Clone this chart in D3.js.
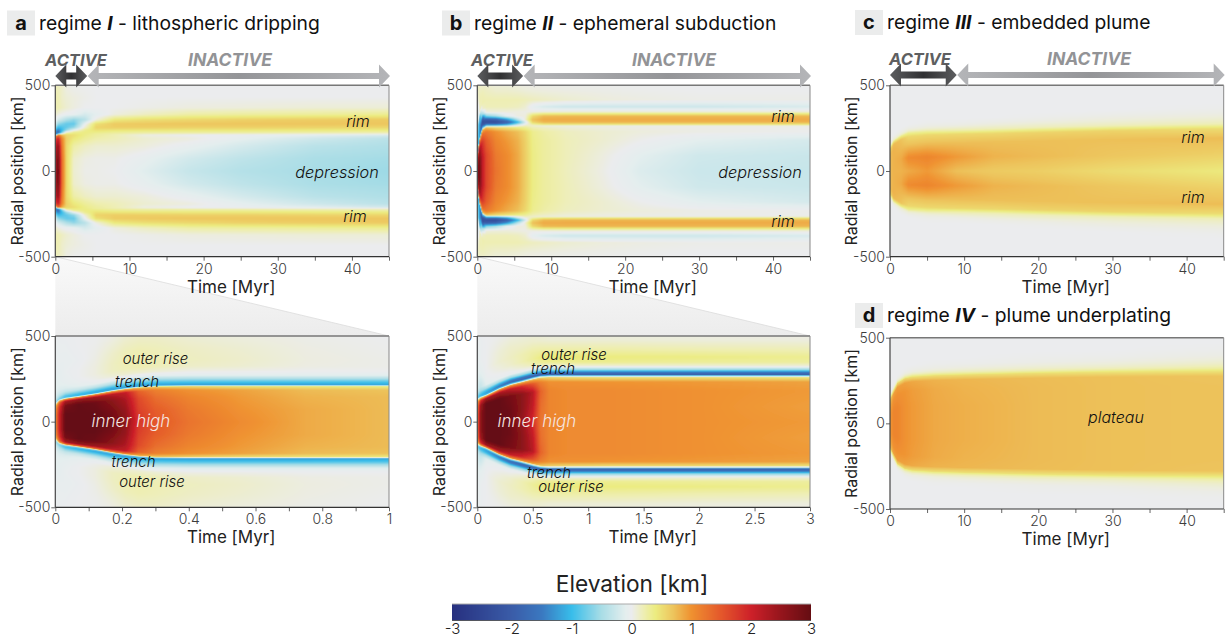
<!DOCTYPE html>
<html>
<head>
<meta charset="utf-8">
<script src="https://cdn.jsdelivr.net/npm/d3@7"></script>
<style>
body { margin: 0; background: #fff; }
svg text { font-family: Inter, "Noto Sans", sans-serif; }
</style>
</head>
<body>
<div id="chart"></div>
<script>
// colour bar
var colorStops = [-3, -2, -1.5, -1, -0.5, -0.1, 0, 0.2, 0.4, 0.7, 1, 1.5, 2, 2.5, 3];
var colorValues = ["#27307f", "#3a5ca8", "#3a78c0", "#38bdea", "#a9dde6", "#e4eeee", "#ebecee", "#eeeeb4", "#ecec80",
    "#edc45c", "#ef9130", "#e4572b", "#cd2029", "#95151c", "#650d12"];
var colorTicks = [-3, -2, -1, 0, 1, 2, 3];

// rows of every table: fractions of the edge radius, then km beyond the edge
var innerRows = [0, 0.35, 0.7, 0.9, 1];
var outerRows = [4, 10, 18, 30, 45, 65, 90, 120, 160, 220, 300, 400];

// a - regime I, 0-45 Myr
var timesA = [0, 0.4, 0.9, 1.5, 2.5, 4, 5.5, 8, 12, 18, 25, 35, 45];
var edgeA = [205, 210, 210, 210, 210, 210, 210, 210, 210, 210, 210, 210, 210];
var elevA = [
    [2.3, 2.3, 2.1, 1.7, 1.0, -0.4, -1.3, -1.4, -1.2, -0.7, -0.3, -0.05, 0.1, 0.2, 0.2, 0.18, 0.15],
    [2.9, 2.8, 2.5, 2.0, 1.3, 0.2, -1.2, -1.7, -1.4, -1.0, -0.6, -0.2, 0.05, 0.2, 0.2, 0.15, 0.15],
    [1.3, 1.3, 1.2, 1.1, 0.8, 0.4, -0.3, -0.8, -1.0, -0.9, -0.7, -0.3, 0, 0.15, 0.12, 0.12, 0.12],
    [0.55, 0.55, 0.55, 0.6, 0.55, 0.5, 0.3, 0, -0.6, -0.8, -0.8, -0.45, -0.03, 0.1, 0.08, 0.03, 0.03],
    [0.1, 0.12, 0.25, 0.42, 0.5, 0.45, 0.4, 0.3, -0.1, -0.6, -0.8, -0.6, -0.05, 0.05, 0.05, 0, 0],
    [0.02, 0.04, 0.15, 0.3, 0.36, 0.36, 0.38, 0.38, 0.33, 0.1, -0.05, -0.4, -0.2, 0, 0.02, 0, 0],
    [0.02, 0.02, 0.1, 0.22, 0.28, 0.28, 0.32, 0.38, 0.48, 0.58, 0.5, 0.05, -0.1, 0, 0, 0, 0],
    [0, 0.02, 0.1, 0.18, 0.2, 0.2, 0.27, 0.33, 0.46, 0.62, 0.64, 0.42, 0.05, 0, 0, 0, 0],
    [-0.12, -0.06, 0.06, 0.1, 0.05, 0.08, 0.22, 0.3, 0.45, 0.62, 0.66, 0.5, 0.15, 0.02, 0, 0, 0],
    [-0.3, -0.22, -0.05, 0.05, 0, 0.03, 0.2, 0.3, 0.44, 0.6, 0.68, 0.55, 0.25, 0.05, 0, 0, 0],
    [-0.42, -0.35, -0.2, -0.08, -0.03, 0.02, 0.18, 0.3, 0.44, 0.6, 0.68, 0.6, 0.28, 0.06, 0, 0, 0],
    [-0.5, -0.48, -0.38, -0.25, -0.1, 0, 0.15, 0.28, 0.42, 0.58, 0.68, 0.63, 0.3, 0.08, 0, 0, 0],
    [-0.55, -0.52, -0.45, -0.38, -0.2, 0, 0.12, 0.26, 0.4, 0.56, 0.68, 0.65, 0.33, 0.08, 0, 0, 0]
];

// a - zoom, 0-1 Myr
var timesA2 = [0, 0.012, 0.03, 0.07, 0.12, 0.17, 0.21, 0.25, 0.3, 0.4, 0.55, 0.75, 1];
var edgeA2 = [100, 122, 132, 143, 158, 176, 188, 197, 203, 205, 205, 205, 205];
var elevA2 = [
    [1, 1, 0.9, 0.7, 0.3, -0.2, -0.6, -0.5, -0.3, -0.2, -0.12, -0.1, -0.08, -0.08, -0.05, -0.05, -0.02],
    [2, 2, 1.8, 1.4, 0.8, -0.1, -0.7, -0.6, -0.4, -0.25, -0.15, -0.1, -0.08, -0.08, -0.05, -0.03, -0.02],
    [3, 3, 2.8, 2.3, 1, -0.05, -0.9, -0.9, -0.6, -0.3, -0.15, -0.08, -0.05, -0.03, -0.05, -0.03, -0.01],
    [3, 3, 3, 2.5, 1.1, 0, -1, -1, -0.7, -0.3, -0.1, -0.03, 0, 0, -0.02, 0, 0],
    [3, 3, 2.9, 2.4, 1.1, 0, -1.1, -1.1, -0.75, -0.35, -0.05, 0.02, 0.05, 0.05, 0.03, 0.01, 0],
    [2.9, 2.8, 2.6, 2.2, 1, 0, -1.15, -1.15, -0.8, -0.4, -0.05, 0.08, 0.15, 0.15, 0.12, 0.05, 0],
    [2.6, 2.5, 2.3, 2.1, 0.9, 0, -1.2, -1.15, -0.85, -0.45, -0.08, 0.1, 0.18, 0.2, 0.18, 0.1, 0.02],
    [1.8, 1.7, 1.6, 1.4, 0.8, 0, -1.2, -1.15, -0.85, -0.5, -0.1, 0.1, 0.2, 0.22, 0.2, 0.12, 0.03],
    [1.5, 1.45, 1.3, 1.15, 0.7, 0, -1.2, -1.1, -0.85, -0.5, -0.12, 0.08, 0.18, 0.2, 0.18, 0.12, 0.03],
    [1.25, 1.2, 1.1, 1, 0.6, 0, -1.2, -1.1, -0.85, -0.5, -0.12, 0.03, 0.13, 0.16, 0.14, 0.08, 0.02],
    [1.05, 1, 0.95, 0.9, 0.5, 0, -1.2, -1.1, -0.85, -0.5, -0.12, 0.02, 0.1, 0.12, 0.1, 0.05, 0],
    [0.85, 0.85, 0.8, 0.75, 0.45, 0, -1.2, -1.1, -0.85, -0.5, -0.12, 0, 0.04, 0.05, 0.04, 0.02, 0],
    [0.75, 0.75, 0.75, 0.7, 0.4, 0, -1.15, -1.05, -0.85, -0.5, -0.12, 0, 0.02, 0.02, 0.01, 0, 0]
];

// b - regime II, 0-45 Myr
var timesB = [0, 0.3, 0.7, 1.2, 2.5, 4, 5.5, 6.5, 7.5, 9, 12, 17, 22, 30, 45];
var edgeB = [85, 180, 240, 255, 255, 255, 255, 255, 255, 255, 255, 255, 255, 255, 255];
var elevB = [
    [2.5, 2.5, 2.2, 1.5, 0.8, 0, -0.8, -1, -1, -0.9, -0.7, -0.5, -0.4, -0.3, -0.5, 0.15, 0.15],
    [2.9, 2.8, 2.4, 1.5, 0.7, 0, -1, -1.2, -1.2, -1.2, -1.2, -1.3, -1.4, 0.1, 0.22, 0.15, 0.1],
    [2.1, 2.1, 1.8, 1.3, 0.8, 0, -0.6, -1.2, -2, -2.4, -2, -0.6, 0.1, 0.22, 0.18, 0.06, 0.03],
    [1.65, 1.65, 1.45, 1.2, 0.7, 0, -0.7, -1.6, -2.3, -2, -0.7, 0.05, 0.18, 0.2, 0.14, 0.03, 0],
    [1.25, 1.2, 1.1, 1, 0.55, 0, -0.6, -1.6, -2.3, -1.9, -0.5, 0.06, 0.18, 0.2, 0.1, 0.02, 0],
    [1.05, 1.05, 0.95, 0.85, 0.45, 0.1, -0.4, -1.2, -1.9, -1.3, -0.1, 0.06, 0.18, 0.2, 0.1, 0.01, 0],
    [0.85, 0.85, 0.8, 0.72, 0.35, 0.2, 0, -0.4, -1, -0.4, 0.05, 0.04, 0.16, 0.2, 0.08, 0.01, 0],
    [0.62, 0.62, 0.6, 0.55, 0.3, 0.25, 0.15, 0, -0.2, 0.1, 0.05, 0.03, 0.1, 0.18, 0.06, 0, 0],
    [0.38, 0.38, 0.36, 0.34, 0.2, 0.15, 0.12, 0.25, 0.55, 0.72, 0.55, 0.05, -0.08, 0.16, 0.05, 0, 0],
    [0.28, 0.28, 0.28, 0.25, 0.14, 0.1, 0.08, 0.42, 0.76, 0.85, 0.76, 0.08, -0.18, 0.14, 0.04, 0, 0],
    [0.17, 0.18, 0.18, 0.16, 0.08, 0.06, 0.06, 0.45, 0.78, 0.85, 0.78, 0.1, -0.25, 0.1, 0.03, 0, 0],
    [0.03, 0.05, 0.1, 0.1, 0.05, 0.04, 0.05, 0.45, 0.78, 0.85, 0.78, 0.1, -0.25, 0.06, 0.02, 0, 0],
    [-0.15, -0.1, 0.01, 0.06, 0.03, 0.03, 0.04, 0.45, 0.78, 0.85, 0.78, 0.1, -0.25, 0.04, 0.01, 0, 0],
    [-0.27, -0.24, -0.1, 0.03, 0.02, 0.02, 0.04, 0.45, 0.78, 0.85, 0.78, 0.1, -0.25, 0.02, 0, 0, 0],
    [-0.3, -0.28, -0.2, 0.01, 0.01, 0.02, 0.05, 0.45, 0.78, 0.85, 0.78, 0.1, -0.18, 0.02, 0, 0, 0]
];

// b - zoom, 0-3 Myr
var timesB2 = [0, 0.03, 0.08, 0.2, 0.3, 0.4, 0.5, 0.57, 0.65, 0.8, 1.2, 2, 3];
var edgeB2 = [125, 138, 150, 188, 212, 228, 245, 255, 258, 258, 258, 258, 258];
var elevB2 = [
    [1.2, 1.2, 1.1, 0.9, 0.5, 0, -0.6, -0.8, -0.6, -0.4, -0.25, -0.2, -0.15, -0.1, -0.08, -0.05, -0.03],
    [2.6, 2.6, 2.4, 1.8, 0.7, 0, -0.9, -1, -0.8, -0.5, -0.3, -0.25, -0.15, -0.08, -0.03, -0.03, -0.02],
    [3, 3, 3, 2.4, 0.9, 0, -1, -1.2, -1, -0.5, -0.12, -0.05, -0.02, 0, 0, 0, 0],
    [3, 3, 3, 2.3, 1, 0, -1, -1.5, -1.2, -0.5, -0.05, 0, 0.05, 0.1, 0.08, 0.02, 0],
    [2.9, 2.9, 2.8, 2.1, 0.95, 0, -0.9, -1.7, -1.4, -0.6, -0.05, 0.03, 0.12, 0.15, 0.12, 0.03, 0],
    [2.5, 2.6, 2.6, 1.9, 0.9, 0, -0.8, -1.8, -1.5, -0.6, -0.03, 0.1, 0.2, 0.2, 0.12, 0.03, 0],
    [1.9, 2.1, 2.2, 1.5, 0.8, 0, -0.6, -1.9, -1.5, -0.6, 0, 0.2, 0.3, 0.25, 0.12, 0.03, 0],
    [1.25, 1.3, 1.4, 1.15, 0.7, 0, -0.5, -2, -1.5, -0.6, 0.03, 0.3, 0.38, 0.25, 0.1, 0.03, 0],
    [1.1, 1.1, 1.1, 1, 0.6, 0, -0.5, -2, -1.5, -0.6, 0.05, 0.33, 0.42, 0.25, 0.08, 0.03, 0],
    [1.05, 1.05, 1.05, 1, 0.55, 0, -0.5, -2, -1.5, -0.6, 0.05, 0.33, 0.42, 0.25, 0.08, 0.03, 0],
    [1.05, 1.05, 1.05, 0.98, 0.5, 0, -0.5, -2, -1.5, -0.6, 0.05, 0.33, 0.4, 0.25, 0.08, 0.02, 0],
    [1, 1, 1, 0.95, 0.5, 0, -0.5, -2, -1.5, -0.6, 0.05, 0.3, 0.38, 0.22, 0.06, 0.02, 0],
    [0.95, 0.92, 0.95, 0.9, 0.45, 0, -0.5, -2, -1.5, -0.6, 0.05, 0.28, 0.33, 0.2, 0.05, 0.01, 0]
];

// c - regime III, 0-45 Myr
var timesC = [0, 0.5, 1.5, 2.5, 5, 9, 14, 20, 30, 45];
var edgeC = [140, 175, 205, 225, 235, 240, 245, 250, 262, 275];
var elevC = [
    [0.75, 0.75, 0.75, 0.6, 0.25, 0.15, 0.08, 0.03, 0, 0, 0, 0, 0, 0, 0, 0, 0],
    [0.8, 0.8, 0.8, 0.75, 0.4, 0.2, 0.12, 0.05, 0.01, 0, 0, 0, 0, 0, 0, 0, 0],
    [0.8, 0.85, 0.75, 0.7, 0.35, 0.2, 0.12, 0.06, 0.02, 0, 0, 0, 0, 0, 0, 0, 0],
    [0.85, 1.05, 0.7, 0.55, 0.3, 0.2, 0.12, 0.06, 0.02, 0, 0, 0, 0, 0, 0, 0, 0],
    [0.95, 1.1, 0.72, 0.55, 0.25, 0.18, 0.12, 0.07, 0.03, 0.01, 0, 0, 0, 0, 0, 0, 0],
    [0.72, 0.95, 0.72, 0.55, 0.2, 0.18, 0.13, 0.08, 0.03, 0.01, 0, 0, 0, 0, 0, 0, 0],
    [0.65, 0.8, 0.72, 0.55, 0.2, 0.17, 0.14, 0.1, 0.05, 0.02, 0, 0, 0, 0, 0, 0, 0],
    [0.62, 0.75, 0.72, 0.58, 0.25, 0.18, 0.15, 0.12, 0.07, 0.03, 0.01, 0, 0, 0, 0, 0, 0],
    [0.52, 0.68, 0.72, 0.58, 0.22, 0.18, 0.15, 0.12, 0.08, 0.05, 0.02, 0, 0, 0, 0, 0, 0],
    [0.42, 0.6, 0.74, 0.52, 0.2, 0.18, 0.16, 0.13, 0.1, 0.06, 0.03, 0.01, 0, 0, 0, 0, 0]
];

// d - regime IV, 0-45 Myr
var timesD = [0, 0.5, 1, 2, 3, 6, 10, 20, 30, 45];
var edgeD = [150, 195, 235, 262, 272, 280, 285, 295, 302, 307];
var elevD = [
    [0.95, 0.95, 0.85, 0.7, 0.3, 0.2, 0.1, 0.04, 0, 0, 0, 0, 0, 0, 0, 0, 0],
    [1.1, 1.1, 1, 0.9, 0.4, 0.3, 0.15, 0.06, 0.01, 0, 0, 0, 0, 0, 0, 0, 0],
    [1.1, 1.1, 1, 0.92, 0.55, 0.35, 0.2, 0.08, 0.02, 0, 0, 0, 0, 0, 0, 0, 0],
    [1, 1, 0.98, 0.9, 0.55, 0.38, 0.25, 0.12, 0.04, 0.01, 0, 0, 0, 0, 0, 0, 0],
    [0.95, 0.95, 0.93, 0.86, 0.5, 0.38, 0.27, 0.14, 0.05, 0.02, 0, 0, 0, 0, 0, 0, 0],
    [0.86, 0.86, 0.85, 0.8, 0.5, 0.38, 0.28, 0.16, 0.07, 0.03, 0.01, 0, 0, 0, 0, 0, 0],
    [0.82, 0.82, 0.8, 0.78, 0.5, 0.38, 0.28, 0.17, 0.09, 0.04, 0.01, 0, 0, 0, 0, 0, 0],
    [0.75, 0.75, 0.75, 0.74, 0.48, 0.38, 0.28, 0.18, 0.11, 0.06, 0.02, 0.01, 0, 0, 0, 0, 0],
    [0.72, 0.72, 0.72, 0.72, 0.45, 0.38, 0.28, 0.19, 0.12, 0.07, 0.03, 0.01, 0, 0, 0, 0, 0],
    [0.71, 0.71, 0.71, 0.7, 0.45, 0.4, 0.33, 0.25, 0.18, 0.12, 0.07, 0.03, 0.01, 0, 0, 0, 0]
];

var ticksLong = [0, 5, 10, 15, 20, 25, 30, 35, 40, 45];
var labelsLong = [0, 10, 20, 30, 40];
var ticksA2 = [0, 0.1, 0.2, 0.3, 0.4, 0.5, 0.6, 0.7, 0.8, 0.9, 1];
var labelsA2 = [0, 0.2, 0.4, 0.6, 0.8, 1];
var ticksB2 = [0, 0.5, 1, 1.5, 2, 2.5, 3];
var radialTicks = [-500, 0, 500];

var rowCoords = innerRows.concat(outerRows.map(function(d) { return 1 + d / 100; }));

var color = d3.scaleLinear().domain(colorStops).range(colorValues).clamp(true);

var width = 1225, height = 639;
var svg = d3.select("#chart").append("svg")
    .attr("width", width)
    .attr("height", height)
    .style("display", "block");
var defs = svg.append("defs");

// soft look of the original raster
defs.append("filter").attr("id", "soft")
    .attr("x", "-2%").attr("y", "-2%").attr("width", "104%").attr("height", "104%")
    .append("feGaussianBlur").attr("stdDeviation", 0.6);

function elevationAt(p, t, r) {
    var n = p.times.length;
    var j = Math.max(0, Math.min(n - 2, d3.bisectRight(p.times, t) - 1));
    var w = (t - p.times[j]) / (p.times[j + 1] - p.times[j]);
    var e = p.edge[j] * (1 - w) + p.edge[j + 1] * w;
    var a = Math.abs(r);
    var c = a <= e ? a / e : 1 + (a - e) / 100;
    var i = Math.max(0, Math.min(rowCoords.length - 2, d3.bisectRight(rowCoords, c) - 1));
    var v = Math.min(1, (c - rowCoords[i]) / (rowCoords[i + 1] - rowCoords[i]));
    var left = p.elev[j][i] * (1 - v) + p.elev[j][i + 1] * v;
    var right = p.elev[j + 1][i] * (1 - v) + p.elev[j + 1][i + 1] * v;
    return left * (1 - w) + right * w;
}

function drawHeatmap(p, x, y) {
    var x0 = x.range()[0], x1 = x.range()[1], y0 = y.range()[1], y1 = y.range()[0];
    var w = Math.round(x1 - x0), h = Math.round(y1 - y0);
    var canvas = document.createElement("canvas");
    canvas.width = w;
    canvas.height = h;
    var ctx = canvas.getContext("2d");
    for (var px = 0; px < w; px++) {
        for (var py = 0; py < h; py++) {
            ctx.fillStyle = color(elevationAt(p, x.invert(x0 + px + 0.5), y.invert(y0 + py + 0.5)));
            ctx.fillRect(px, py, 1, 1);
        }
    }
    var clipId = "clip-" + p.id;
    defs.append("clipPath").attr("id", clipId).append("rect")
        .attr("x", x0).attr("y", y0).attr("width", x1 - x0).attr("height", y1 - y0);
    svg.append("g").attr("clip-path", "url(#" + clipId + ")")
        .append("image")
        .attr("x", x0).attr("y", y0).attr("width", x1 - x0).attr("height", y1 - y0)
        .attr("preserveAspectRatio", "none")
        .attr("filter", "url(#soft)")
        .attr("href", canvas.toDataURL());
}

function drawPanel(p) {
    var x = d3.scaleLinear().domain(p.domain).range([p.left, p.right]);
    var y = d3.scaleLinear().domain([-500, 500]).range([p.bottom, p.top]);

    drawHeatmap(p, x, y);

    var xAxis = d3.axisBottom(x).tickValues(p.ticks).tickSize(4).tickPadding(3)
        .tickFormat(function(d) { return p.labels.indexOf(d) >= 0 ? d : ""; });
    var gx = svg.append("g").attr("transform", "translate(0," + p.bottom + ")").call(xAxis);
    var yAxis = d3.axisLeft(y).tickValues(radialTicks).tickSize(4).tickPadding(1)
        .tickFormat(function(d) { return String(d); });
    var gy = svg.append("g").attr("transform", "translate(" + p.left + ",0)").call(yAxis);
    [gx, gy].forEach(function(g) {
        g.select(".domain").remove();
        g.selectAll("line").attr("stroke", "#666");
        g.selectAll("text").style("font-size", "14px").style("font-weight", 300).attr("fill", "#3c3c3c");
    });

    // frame: the top and right sides are lighter
    svg.append("line").attr("x1", p.left).attr("x2", p.right).attr("y1", p.top).attr("y2", p.top)
        .attr("stroke", "#777").attr("stroke-width", 1.4);
    svg.append("line").attr("x1", p.right).attr("x2", p.right).attr("y1", p.top).attr("y2", p.bottom)
        .attr("stroke", "#888").attr("stroke-width", 1);
    svg.append("line").attr("x1", p.left).attr("x2", p.right).attr("y1", p.bottom).attr("y2", p.bottom)
        .attr("stroke", "#333").attr("stroke-width", 1.2);
    svg.append("line").attr("x1", p.left).attr("x2", p.left).attr("y1", p.top).attr("y2", p.bottom)
        .attr("stroke", "#444").attr("stroke-width", 1.2);

    svg.append("text")
        .attr("transform", "translate(" + p.yLabelX + "," + (p.top + p.bottom) / 2 + ") rotate(-90)")
        .attr("text-anchor", "middle")
        .style("font-size", "16px")
        .attr("fill", "#222")
        .text("Radial position [km]");
    svg.append("text")
        .attr("x", (p.left + p.right) / 2 + 9)
        .attr("y", p.bottom + 36)
        .attr("text-anchor", "middle")
        .style("font-size", "17px")
        .attr("fill", "#222")
        .text("Time [Myr]");

    return x;
}

function drawNotes(notes) {
    notes.forEach(function(d) {
        svg.append("text")
            .attr("x", d[1]).attr("y", d[2])
            .attr("text-anchor", "middle")
            .style("font-size", d[4] || "15px")
            .style("font-style", "italic")
            .style("font-weight", 300)
            .attr("fill", d[3] || "#111")
            .text(d[0]);
    });
}

function drawTitle(letter, regime, rest, boxX, boxY) {
    svg.append("rect").attr("x", boxX).attr("y", boxY).attr("width", 28).attr("height", 25).attr("fill", "#ebecec");
    svg.append("text").attr("x", boxX + 14).attr("y", boxY + 19).attr("text-anchor", "middle")
        .style("font-size", "20px").style("font-weight", 700).attr("fill", "#111").text(letter);
    var t = svg.append("text").attr("x", boxX + 32).attr("y", boxY + 19)
        .style("font-size", "19.3px").attr("fill", "#111");
    t.append("tspan").text("regime ");
    t.append("tspan").style("font-weight", 700).style("font-style", "italic").text(regime);
    t.append("tspan").text(" - " + rest);
}

function arrowGradient(id, end, mid) {
    var g = defs.append("linearGradient").attr("id", id);
    g.append("stop").attr("offset", "0%").attr("stop-color", end);
    g.append("stop").attr("offset", "50%").attr("stop-color", mid);
    g.append("stop").attr("offset", "100%").attr("stop-color", end);
}
arrowGradient("activeFill", "#5c5d5f", "#303032");
arrowGradient("inactiveFill", "#b4b5b8", "#949598");

function drawArrow(x0, x1, yc, fill, half) {
    var head = 11, spread = 11.5;
    var pts = [[x0, yc], [x0 + head, yc - spread], [x0 + head, yc - half], [x1 - head, yc - half], [x1 - head, yc - spread],
        [x1, yc], [x1 - head, yc + spread], [x1 - head, yc + half], [x0 + head, yc + half], [x0 + head, yc + spread]];
    svg.append("path")
        .attr("d", d3.line()(pts) + "Z")
        .attr("fill", "url(#" + fill + ")");
}

function drawPhases(x, activeEnd, activeLabelX, inactiveLabelX, yc) {
    svg.append("text").attr("x", activeLabelX).attr("y", yc - 10).attr("text-anchor", "middle")
        .style("font-size", "16.5px").style("font-weight", 700).style("font-style", "italic")
        .attr("fill", "#5e5f61").text("ACTIVE");
    svg.append("text").attr("x", inactiveLabelX).attr("y", yc - 10).attr("text-anchor", "middle")
        .style("font-size", "17.5px").style("font-weight", 700).style("font-style", "italic")
        .attr("fill", "#929396").text("INACTIVE");
    drawArrow(x(0), x(activeEnd), yc, "activeFill", 3.5);
    drawArrow(x(activeEnd) + 0.5, x(45) + 1, yc, "inactiveFill", 3);
}

// light wedge that links a panel to its zoom
function drawWedge(id, left, right, top, bottom) {
    var g = defs.append("linearGradient").attr("id", id).attr("x1", 0).attr("x2", 0).attr("y1", 0).attr("y2", 1);
    g.append("stop").attr("offset", "0%").attr("stop-color", "#f9f9f9");
    g.append("stop").attr("offset", "100%").attr("stop-color", "#ececec");
    svg.append("path")
        .attr("d", d3.line()([[left, top], [right, bottom], [left, bottom]]) + "Z")
        .attr("fill", "url(#" + id + ")");
    svg.append("path")
        .attr("d", d3.line()([[left, top], [right, bottom]]))
        .attr("fill", "none").attr("stroke", "#dcdcdc").attr("stroke-width", 0.8);
}

drawWedge("wedgeA", 55.3, 389, 256.7, 336);
drawWedge("wedgeB", 477.3, 810, 256.7, 336);

drawTitle("a", "I", "lithospheric dripping", 7, 10.5);
drawTitle("b", "II", "ephemeral subduction", 442, 10.5);
drawTitle("c", "III", "embedded plume", 855, 10);
drawTitle("d", "IV", "plume underplating", 855, 303);

var xA = drawPanel({ id: "a", times: timesA, edge: edgeA, elev: elevA, domain: [0, 45], ticks: ticksLong, labels: labelsLong,
    left: 55.3, right: 389, top: 85.3, bottom: 256.7, yLabelX: 23 });
var xA2 = drawPanel({ id: "a2", times: timesA2, edge: edgeA2, elev: elevA2, domain: [0, 1], ticks: ticksA2, labels: labelsA2,
    left: 55.3, right: 389, top: 336, bottom: 507.3, yLabelX: 23 });
var xB = drawPanel({ id: "b", times: timesB, edge: edgeB, elev: elevB, domain: [0, 45], ticks: ticksLong, labels: labelsLong,
    left: 477.3, right: 810, top: 85.3, bottom: 256.7, yLabelX: 445 });
var xB2 = drawPanel({ id: "b2", times: timesB2, edge: edgeB2, elev: elevB2, domain: [0, 3], ticks: ticksB2, labels: ticksB2,
    left: 477.3, right: 810, top: 336, bottom: 507.3, yLabelX: 445 });
var xC = drawPanel({ id: "c", times: timesC, edge: edgeC, elev: elevC, domain: [0, 45], ticks: ticksLong, labels: labelsLong,
    left: 890, right: 1223.7, top: 85.3, bottom: 256.7, yLabelX: 857 });
var xD = drawPanel({ id: "d", times: timesD, edge: edgeD, elev: elevD, domain: [0, 45], ticks: ticksLong, labels: labelsLong,
    left: 890, right: 1223.7, top: 337.7, bottom: 509, yLabelX: 857 });

drawPhases(xA, 4.3, 76, 230, 76);
drawPhases(xB, 6.2, 502, 674, 76);
drawPhases(xC, 9, 920, 1089, 75);

drawNotes([
    ["rim", 358, 127, null, "16px"], ["depression", 337, 178, null, "16.3px"], ["rim", 355, 222, null, "16px"],
    ["outer rise", 155.5, 364], ["trench", 137, 387], ["inner high", 131, 427, "#f6e6e0", "17px"], ["trench", 133.5, 467], ["outer rise", 152, 487],
    ["rim", 783, 122, null, "16px"], ["depression", 760, 178, null, "16.3px"], ["rim", 783, 227, null, "16px"],
    ["outer rise", 574, 360], ["trench", 553, 374], ["inner high", 537, 427, "#f6e6e0", "17px"], ["trench", 549, 478], ["outer rise", 571, 492],
    ["rim", 1193, 143, null, "16px"], ["rim", 1193, 203, null, "16px"], ["plateau", 1116, 423, null, "16px"]
]);

// colour bar
var barX = d3.scaleLinear().domain([-3, 3]).range([452, 811]);
var barCanvas = document.createElement("canvas");
barCanvas.width = 359;
barCanvas.height = 1;
var barCtx = barCanvas.getContext("2d");
d3.range(359).forEach(function(px) {
    barCtx.fillStyle = color(barX.invert(452 + px + 0.5));
    barCtx.fillRect(px, 0, 1, 1);
});
svg.append("image")
    .attr("x", 452).attr("y", 604).attr("width", 359).attr("height", 16.5)
    .attr("preserveAspectRatio", "none")
    .attr("href", barCanvas.toDataURL());
svg.append("line").attr("x1", 452).attr("x2", 811).attr("y1", 604).attr("y2", 604).attr("stroke", "#aaa").attr("stroke-width", 1);
svg.append("line").attr("x1", 452).attr("x2", 811).attr("y1", 620.5).attr("y2", 620.5).attr("stroke", "#444").attr("stroke-width", 0.8);

var barAxis = d3.axisBottom(barX).tickValues(colorTicks).tickSize(0).tickPadding(3)
    .tickFormat(function(d) { return String(d); });
var gBar = svg.append("g").attr("transform", "translate(0,620)").call(barAxis);
gBar.select(".domain").remove();
gBar.selectAll("text").style("font-size", "15px").style("font-weight", 300).attr("fill", "#222");

svg.append("text")
    .attr("x", 632).attr("y", 592)
    .attr("text-anchor", "middle")
    .style("font-size", "22.7px")
    .attr("fill", "#222")
    .text("Elevation [km]");
</script>
</body>
</html>
